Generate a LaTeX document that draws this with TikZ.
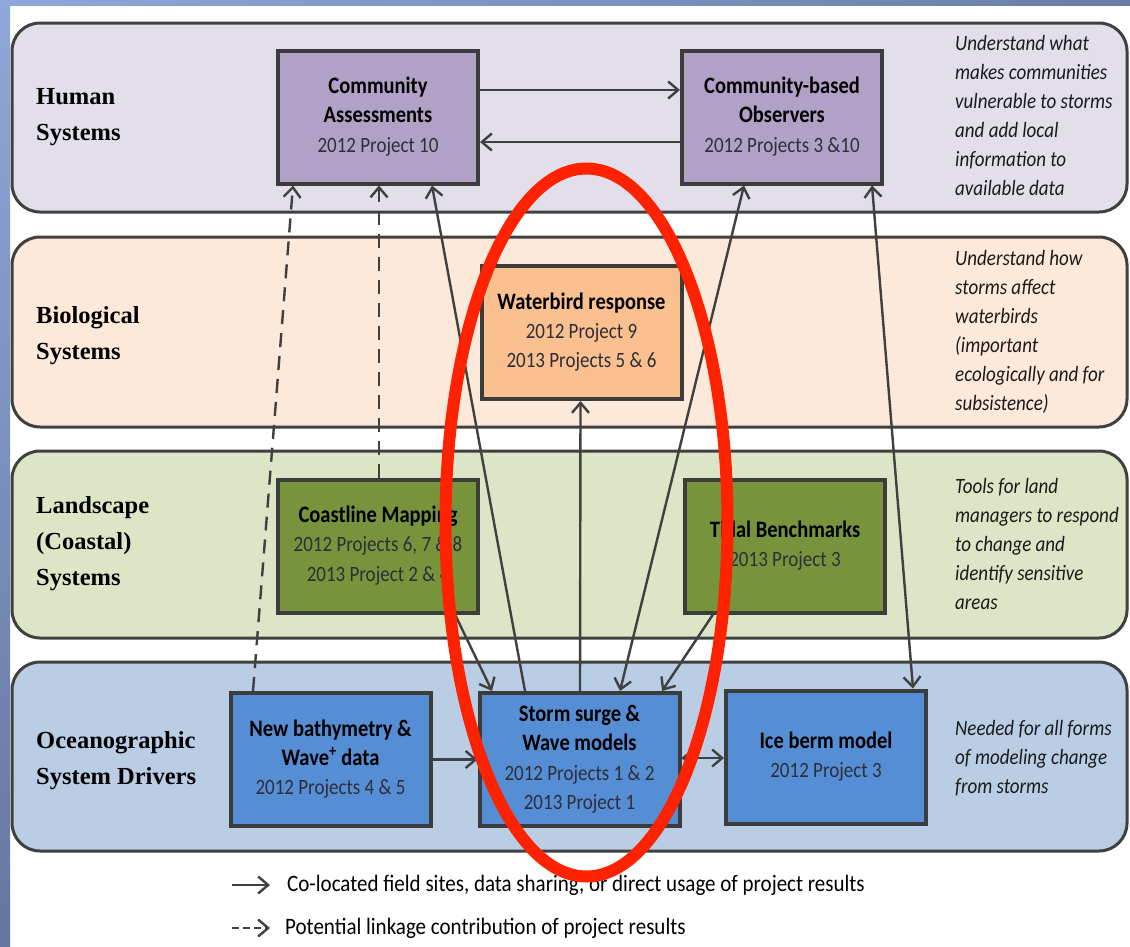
\documentclass[tikz,border=0pt]{standalone}
\usepackage{graphicx}
\usepackage{fontspec}
\setmainfont{Carlito}
\newfontfamily\serif{Liberation Serif}
\usetikzlibrary{arrows.meta}
\definecolor{bgA}{HTML}{8EA8D9}
\definecolor{bgB}{HTML}{66769F}
\definecolor{bgC}{HTML}{6A7DA8}
\definecolor{pline}{HTML}{404040}
\definecolor{bline}{HTML}{3C3C3C}
\definecolor{aline}{HTML}{404040}
\definecolor{humanbg}{HTML}{E2DFEB}
\definecolor{biobg}{HTML}{FDE9DA}
\definecolor{landbg}{HTML}{DCE6C6}
\definecolor{oceanbg}{HTML}{B9CDE5}
\definecolor{purple}{HTML}{B2A1C7}
\definecolor{peach}{HTML}{FAC090}
\definecolor{olive}{HTML}{77933C}
\definecolor{blue}{HTML}{558ED5}
\definecolor{subtext}{HTML}{2E2E38}
\definecolor{ntext}{HTML}{1A1A1A}
\definecolor{redring}{HTML}{FF2200}
\tikzset{
  panel/.style={draw=pline, line width=3pt, rounded corners=28pt},
  box/.style={draw=bline, line width=4pt, minimum width=200pt, minimum height=133pt,
    inner sep=0pt, font=\fontsize{19}{25.5}\selectfont, text=subtext},
  lab/.style={anchor=west, align=left, inner sep=0pt, font=\serif\bfseries\fontsize{24.5}{36}\selectfont, text=black},
  note/.style={anchor=west, inner sep=0pt, font=\itshape\fontsize{19}{25.2}\selectfont, text=ntext},
  tipb/.tip={Straight Barb[length=10pt,width=17pt]},
  conn/.style={draw=aline, line width=2.4pt, -tipb},
  both/.style={draw=aline, line width=2.4pt, tipb-tipb},
  dsh/.style={conn, dash pattern=on 14pt off 9pt},
  legtext/.style={anchor=west, inner sep=0pt, font=\fontsize{21}{24}\selectfont, text=black},
}
\newcommand{\ttl}[1]{{\color{black}\bfseries\fontsize{20.5}{25.5}\selectfont #1}}
\newcommand{\vs}[2][c]{\scalebox{1}[1.15]{\begin{tabular}{@{}#1@{}}#2\end{tabular}}}
\begin{document}
\begin{tikzpicture}[x=1pt,y=-1pt]
\useasboundingbox (0,0) rectangle (1130,946);
\fill[white] (0,0) rectangle (1130,946);
\shade[top color=bgA, bottom color=bgB] (0,0) rectangle (10,946);
\shade[left color=bgA, right color=bgC] (0,0) rectangle (1130,5);

% panels
\draw[panel, fill=humanbg] (12,23) rectangle (1127,212);
\draw[panel, fill=biobg] (12,237) rectangle (1127,427);
\draw[panel, fill=landbg] (12,451) rectangle (1127,638);
\draw[panel, fill=oceanbg] (12,662) rectangle (1127,851);

% row labels
\node[lab] (lh) at (36,117) {Human\\Systems};
\node[lab] (lb) at (36,336) {Biological\\Systems};
\node[lab] (ll) at (36,544) {Landscape\\(Coastal)\\Systems};
\node[lab] (lo) at (36,761) {Oceanographic\\System Drivers};

% notes
\node[note] (nh) at (955,117.5) {\vs[l]{Understand what\\makes communities\\vulnerable to storms\\and add local\\information to\\available data}};
\node[note] (nb) at (955,332.5) {\vs[l]{Understand how\\storms affect\\waterbirds\\(important\\ecologically and for\\subsistence)}};
\node[note] (nl) at (955,546) {\vs[l]{Tools for land\\managers to respond\\to change and\\identify sensitive\\areas}};
\node[note] (no) at (955,759) {\vs[l]{Needed for all forms\\of modeling change\\from storms}};

% boxes
\node[box, fill=purple] (ca) at (378,117) {\vs{\ttl{Community}\\\ttl{Assessments}\\2012 Project 10}};
\node[box, fill=purple] (cbo) at (782,117) {\vs{\ttl{Community-based}\\\ttl{Observers}\\2012 Projects 3 \&10}};
\node[box, fill=peach] (wb) at (581.5,332.5) {\vs{\ttl{Waterbird response}\\2012 Project 9\\2013 Projects 5 \& 6}};
\node[box, fill=olive] (cm) at (378,546) {\vs{\ttl{Coastline Mapping}\\2012 Projects 6, 7 \& 8\\2013 Project 2 \& 4}};
\node[box, fill=olive] (tb) at (785,546) {\vs{\ttl{Tidal Benchmarks}\\2013 Project 3}};
\node[box, fill=blue] (nb2) at (330.5,759.5) {\vs{\ttl{New bathymetry \&}\\\ttl{Wave\textsuperscript{+} data}\\2012 Projects 4 \& 5}};
\node[box, fill=blue] (ss) at (579.5,759.5) {\vs{\ttl{Storm surge \&}\\\ttl{Wave models}\\2012 Projects 1 \& 2\\2013 Project 1}};
\node[box, fill=blue] (ib) at (826,757) {\vs{\ttl{Ice berm model}\\2012 Project 3}};

% connectors
\draw[conn] ([yshift=27pt]ca.east) -- ([yshift=27pt]cbo.west);
\draw[conn] ([yshift=-25pt]cbo.west) -- ([yshift=-25pt]ca.east);
\draw[dsh] ([xshift=-77.5pt]nb2.north) -- ([xshift=-85pt]ca.south);
\draw[dsh] ([xshift=1pt]cm.north) -- ([xshift=1pt]ca.south);
\draw[conn] ([xshift=-54.5pt]ss.north) -- ([xshift=54pt]ca.south);
\draw[conn] ([xshift=0.5pt]ss.north) -- ([xshift=-1pt]wb.south);
\draw[both] ([xshift=40.5pt]ss.north) -- ([xshift=-38pt]cbo.south);
\draw[both] ([xshift=87pt]ib.north) -- ([xshift=90pt]cbo.south);
\draw[conn] ([xshift=77pt]cm.south) -- ([xshift=-87.5pt]ss.north);
\draw[conn] ([xshift=-72pt]tb.south) -- ([xshift=82.5pt]ss.north);
\draw[conn] (nb2.east) -- (ss.west);
\draw[both] ([yshift=1.5pt]ss.east) -- ([yshift=-1pt]ib.west);

% legend
\coordinate (l1a) at (232,885);
\coordinate (l1b) at (270,885);
\coordinate (l2a) at (232,928);
\coordinate (l2b) at (270,928);
\draw[conn] (l1a) -- (l1b);
\draw[draw=aline, line width=2.4pt, dash pattern=on 7pt off 4pt, -tipb] (l2a) -- (l2b);
\node[legtext] (t1) at (287,885) {\scalebox{1}[1.12]{Co-located field sites, data sharing, or direct usage of project results}};
\node[legtext] (t2) at (285,928) {\scalebox{1}[1.12]{Potential linkage contribution of project results}};

% red ellipse
\draw[redring, line width=12pt] (586.5,522.5) ellipse [x radius=141, y radius=354];
\end{tikzpicture}
\end{document}
